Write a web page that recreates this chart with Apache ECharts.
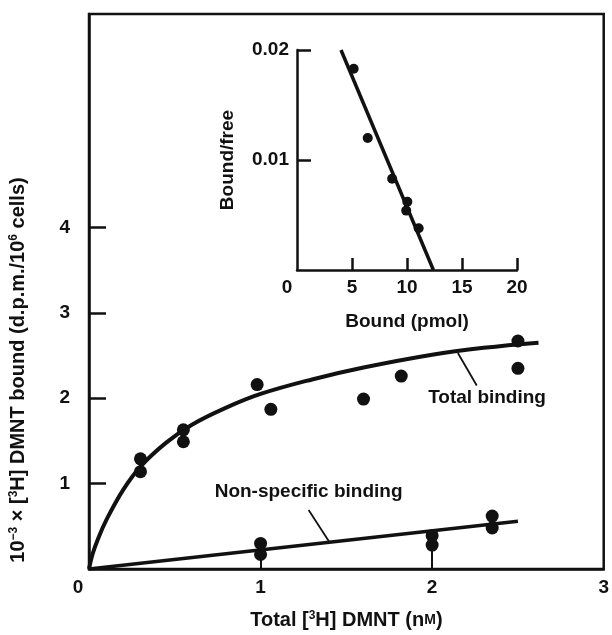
<!DOCTYPE html>
<html>
<head>
    <meta charset="utf-8">
    <title>DMNT binding</title>
    <script src="https://cdn.jsdelivr.net/npm/echarts@6/dist/echarts.min.js"></script>
</head>
<body style="margin:0">
    <div id="main" style="width: 612px;height:635px;"></div>
    <script>
        // main plot: total binding (points + fitted curve)
        var totalPts = [[0.3, 1.29], [0.3, 1.14], [0.55, 1.63], [0.55, 1.49], [0.98, 2.16],
            [1.06, 1.87], [1.6, 1.99], [1.82, 2.26], [2.5, 2.67], [2.5, 2.35]];
        var totalCurve = [[0, 0], [0.02, 0.17], [0.05, 0.34], [0.1, 0.57], [0.2, 0.93], [0.3, 1.2],
            [0.45, 1.48], [0.6, 1.69], [0.8, 1.89], [1.0, 2.05], [1.3, 2.22], [1.6, 2.36],
            [2.0, 2.51], [2.3, 2.59], [2.62, 2.65]];
        // non-specific binding
        var nonspecPts = [[1, 0.30], [1, 0.17], [2, 0.39], [2, 0.28], [2.35, 0.62], [2.35, 0.48]];
        var nonspecLine = [[0, 0], [2.5, 0.56]];
        // annotation leaders and text anchors (data units)
        var totalLeader = [[2.15, 2.53], [2.26, 2.15]];
        var nonspecLeader = [[1.28, 0.69], [1.4, 0.32]];
        var notes = [{ name: 'Total binding', value: [2.32, 2.0] },
            { name: 'Non-specific binding', value: [1.28, 0.90] }];
        // inset: Scatchard plot
        var scatPts = [[5.15, 0.0183], [6.43, 0.0120], [8.65, 0.0083], [10.03, 0.0062],
            [9.93, 0.0054], [11.06, 0.0038]];
        var scatLine = [[4, 0.02], [12.4, 0]];

        var mainXLabels = [0, 1, 2, 3];
        var mainYLabels = [1, 2, 3, 4];
        var insetXLabels = [0, 5, 10, 15, 20];
        var insetYLabels = [0.01, 0.02];

        var ink = '#111';
        var font = 'Liberation Sans, Arial, DejaVu Sans, sans-serif';
        var zeroShift = function (v) { return v === 0 ? '{z|0}' : String(v); };
        var txt = { fontSize: 19, fontWeight: 'bold', color: ink, fontFamily: font };

        var myChart = echarts.init(document.getElementById('main'));
        var option = {
            animation: false,
            backgroundColor: '#fff',
            textStyle: { fontFamily: font, color: ink },
            grid: [
                { left: 89, top: 14, width: 515, height: 559, show: true,
                  borderColor: ink, borderWidth: 2.5, backgroundColor: 'transparent' },
                { left: 297, top: 50, width: 220, height: 220 }
            ],
            xAxis: [
                {
                    gridIndex: 0, type: 'value', min: 0, max: 3,
                    name: 'Total [{s|3}H] DMNT (n{sc|M})',
                    nameLocation: 'middle', nameGap: 41,
                    nameTextStyle: { fontSize: 20, fontWeight: 'bold', color: ink, fontFamily: font,
                        rich: { s: { fontSize: 12, fontWeight: 'bold', verticalAlign: 'top', padding: [0, 0, 8, 0], fontFamily: font },
                                sc: { fontSize: 14, fontWeight: 'bold', fontFamily: font } } },
                    axisLine: { show: true, lineStyle: { color: ink, width: 2.5 } },
                    axisTick: { show: true, inside: true, length: 20, customValues: [1, 2],
                        lineStyle: { color: ink, width: 2 } },
                    axisLabel: Object.assign({ customValues: mainXLabels, margin: 9,
                        formatter: zeroShift, rich: { z: { fontSize: 19, fontWeight: 'bold', padding: [0, 22, 0, 0] } } }, txt),
                    splitLine: { show: false }
                },
                {
                    gridIndex: 1, type: 'value', min: 0, max: 20, interval: 5,
                    name: 'Bound (pmol)', nameLocation: 'middle', nameGap: 42,
                    nameTextStyle: txt,
                    axisLine: { show: true, lineStyle: { color: ink, width: 2.5 } },
                    axisTick: { show: true, inside: true, length: 12, customValues: [5, 10, 15, 20],
                        lineStyle: { color: ink, width: 2.5 } },
                    axisLabel: Object.assign({ customValues: insetXLabels, margin: 8,
                        formatter: zeroShift, rich: { z: { fontSize: 19, fontWeight: 'bold', padding: [0, 20, 0, 0] } } }, txt),
                    splitLine: { show: false }
                }
            ],
            yAxis: [
                {
                    gridIndex: 0, type: 'value', min: 0, max: 6.5,
                    axisLine: { show: true, lineStyle: { color: ink, width: 2.5 } },
                    axisTick: { show: true, inside: true, length: 17, customValues: mainYLabels,
                        lineStyle: { color: ink, width: 2.5 } },
                    axisLabel: Object.assign({ customValues: mainYLabels, margin: 19 }, txt),
                    splitLine: { show: false }
                },
                {
                    gridIndex: 1, type: 'value', min: 0, max: 0.02,
                    name: 'Bound/free', nameLocation: 'middle', nameGap: 60, nameRotate: 90,
                    nameTextStyle: txt,
                    axisLine: { show: true, lineStyle: { color: ink, width: 2.5 } },
                    axisTick: { show: true, inside: true, length: 14, customValues: insetYLabels,
                        lineStyle: { color: ink, width: 2.5 } },
                    axisLabel: Object.assign({ customValues: insetYLabels, margin: 8 }, txt),
                    splitLine: { show: false }
                }
            ],
            graphic: [{
                type: 'text', x: 18, y: 370, rotation: Math.PI / 2,
                style: {
                    text: '10{s|−3} × [{s|3}H] DMNT bound (d.p.m./10{s|6} cells)',
                    fill: ink, font: 'bold 20px ' + font, align: 'center', verticalAlign: 'middle',
                    rich: { s: { font: 'bold 12px ' + font, verticalAlign: 'top', padding: [0, 0, 8, 0], fill: ink } }
                }
            }],
            series: [
                { type: 'line', xAxisIndex: 0, yAxisIndex: 0, data: totalCurve, smooth: 0.4,
                  showSymbol: false, lineStyle: { color: ink, width: 4 } },
                { type: 'scatter', xAxisIndex: 0, yAxisIndex: 0, data: totalPts, symbolSize: 13,
                  itemStyle: { color: ink, opacity: 1 } },
                { type: 'line', xAxisIndex: 0, yAxisIndex: 0, data: nonspecLine, showSymbol: false,
                  lineStyle: { color: ink, width: 3.5 } },
                { type: 'scatter', xAxisIndex: 0, yAxisIndex: 0, data: nonspecPts, symbolSize: 13,
                  itemStyle: { color: ink, opacity: 1 } },
                { type: 'line', xAxisIndex: 0, yAxisIndex: 0, data: totalLeader, showSymbol: false,
                  lineStyle: { color: ink, width: 1.8 } },
                { type: 'line', xAxisIndex: 0, yAxisIndex: 0, data: nonspecLeader, showSymbol: false,
                  lineStyle: { color: ink, width: 1.8 } },
                { type: 'scatter', xAxisIndex: 0, yAxisIndex: 0, data: notes, symbolSize: 0,
                  itemStyle: { opacity: 1 },
                  label: Object.assign({ show: true, position: 'inside', formatter: '{b}' }, txt) },
                { type: 'line', xAxisIndex: 1, yAxisIndex: 1, data: scatLine, showSymbol: false,
                  lineStyle: { color: ink, width: 3.5 } },
                { type: 'scatter', xAxisIndex: 1, yAxisIndex: 1, data: scatPts, symbolSize: 10,
                  itemStyle: { color: ink, opacity: 1 } }
            ]
        };
        myChart.setOption(option);
    </script>
</body>
</html>
